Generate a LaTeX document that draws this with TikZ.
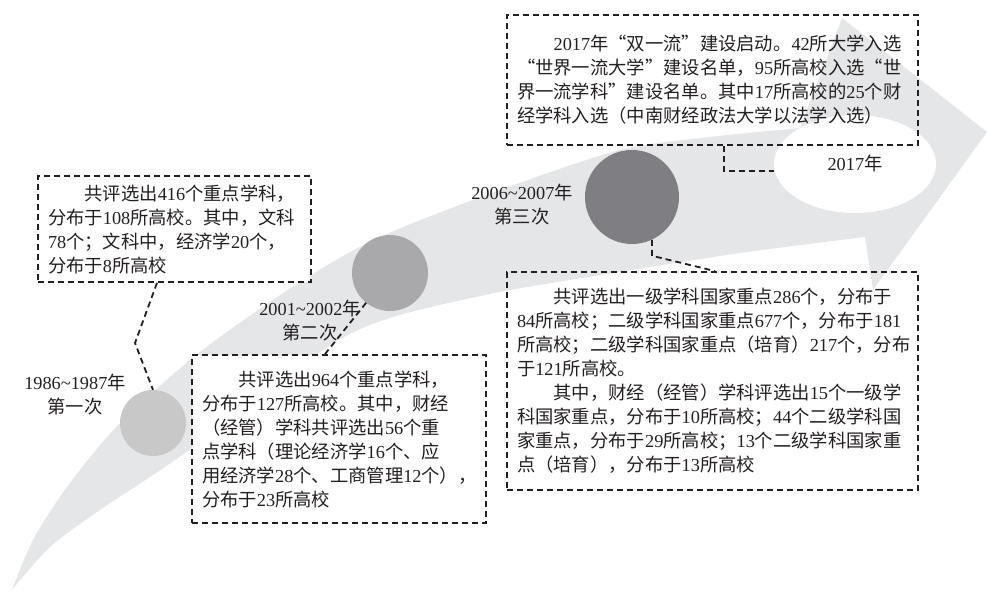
\documentclass[tikz,border=0pt]{standalone}
\usepackage{fontspec}
\setmainfont{Liberation Serif}
\newfontfamily\cjk[RawFeature=+fwid]{Noto Sans CJK SC}
\usetikzlibrary{shapes.geometric}
\XeTeXinterchartokenstate=1
\newXeTeXintercharclass\cjkcls
\makeatletter
\count@="4E00
\loop \XeTeXcharclass\count@=\cjkcls \ifnum\count@<"9FFF \advance\count@\@ne \repeat
\count@="3000
\loop \XeTeXcharclass\count@=\cjkcls \ifnum\count@<"303F \advance\count@\@ne \repeat
\count@="FF00
\loop \XeTeXcharclass\count@=\cjkcls \ifnum\count@<"FFEF \advance\count@\@ne \repeat
\makeatother
\XeTeXcharclass"201C=\cjkcls
\XeTeXcharclass"201D=\cjkcls
\XeTeXinterchartoks 0 \cjkcls = {\cjk}
\XeTeXinterchartoks 4095 \cjkcls = {\cjk}
\XeTeXinterchartoks \cjkcls 0 = {\rmfamily}
\XeTeXinterchartoks \cjkcls 4095 = {\rmfamily}
\newcommand\mybodyfont{\fontsize{18.3}{24}\selectfont}
\definecolor{ink}{HTML}{231F20}
\definecolor{arrowgray}{HTML}{E5E6E8}
\definecolor{cone}{HTML}{C8C8C9}
\definecolor{ctwo}{HTML}{A9A9AB}
\definecolor{cthree}{HTML}{7F7F83}
\begin{document}
\begin{tikzpicture}[x=1pt,y=-1pt,
  conn/.style={draw=ink, line width=1.8pt, dash pattern=on 6pt off 4pt},
  tbox/.style={draw=ink, line width=1.8pt, dash pattern=on 6pt off 4pt,
    inner xsep=10pt, inner ysep=0pt, align=left, font=\mybodyfont, text=ink},
  lbl/.style={align=center, font=\mybodyfont, text=ink, inner sep=0pt},
  dot/.style={circle, inner sep=0pt, draw=none}]
\useasboundingbox (0,0) rectangle (987,591);
% big curved arrow
\fill[arrowgray] plot[smooth] coordinates {(12,590) (33,540) (67,487) (120,423) (200,352) (300,282) (380,237) (500,190) (620,150) (710,137) (800,128)}
  -- (842,18) -- (987,132) -- (873,290) -- (865,237)
  -- plot[smooth] coordinates {(865,237) (740,253) (620,272) (500,292) (390,318) (323,350) (185,453) (100,510) (50,547) (12,590)} -- cycle;
% milestones
\node[dot, fill=cone, minimum size=66pt] (c1) at (153,423) {};
\node[dot, fill=ctwo, minimum size=76pt] (c2) at (390,273) {};
\node[dot, fill=cthree, minimum size=94pt] (c3) at (632,197) {};
\node[ellipse, fill=white, inner sep=0pt, minimum width=162pt, minimum height=98pt, font=\mybodyfont, text=ink] (ell) at (855,164) {2017年};
% text boxes
\node[tbox, fill=white, text width=253pt, minimum height=106pt] (b1) at (174.5,229) {%
\hspace*{2em}共评选出416个重点学科，\\
分布于108所高校。其中，文科\\
78个；文科中，经济学20个，\\
分布于8所高校};
\node[tbox, fill=white, text width=274pt, minimum height=168pt] (b2) at (339,439) {%
\hspace*{2em}共评选出964个重点学科，\\
分布于127所高校。其中，财经\\
（经管）学科共评选出56个重\\
点学科（理论经济学16个、应\\
用经济学28个、工商管理12个），\\
分布于23所高校};
\node[tbox, text width=391pt, minimum height=218pt] (b4) at (712.5,381) {%
\hspace*{2em}共评选出一级学科国家重点286个，分布于\\
84所高校；二级学科国家重点677个，分布于181\\
所高校；二级学科国家重点（培育）217个，分布\\
于121所高校。\\
\hspace*{2em}其中，财经（经管）学科评选出15个一级学\\
科国家重点，分布于10所高校；44个二级学科国\\
家重点，分布于29所高校；13个二级学科国家重\\
点（培育），分布于13所高校};
\node[tbox, text width=391pt, minimum height=130pt] (tb) at (712.5,80) {%
\hspace*{2em}2017年“双一流”建设启动。42所大学入选\\
“世界一流大学”建设名单，95所高校入选“世\\
界一流学科”建设名单。其中17所高校的25个财\\
经学科入选（中南财经政法大学以法学入选）};
% year labels
\node[lbl] (y1) at (75,395) {1986\textasciitilde1987年\\第一次};
\node[lbl] (y2) at (310,321) {2001\textasciitilde2002年\\第二次};
\node[lbl] (y3) at (522,205) {2006\textasciitilde2007年\\第三次};
% connectors
\coordinate (k1) at (135,343);
\draw[conn] ([xshift=-17.5pt]b1.south) -- (k1) -- (c1.north);
\draw[conn] (c2) -- ([xshift=-14pt]b2.north);
\draw[conn] (c3.-65) -- ++(0,16) -- ([xshift=2.5pt]b4.north);
\draw[conn] ([xshift=11.5pt]tb.south) |- ([yshift=-7pt]ell.west);
\end{tikzpicture}
\end{document}
